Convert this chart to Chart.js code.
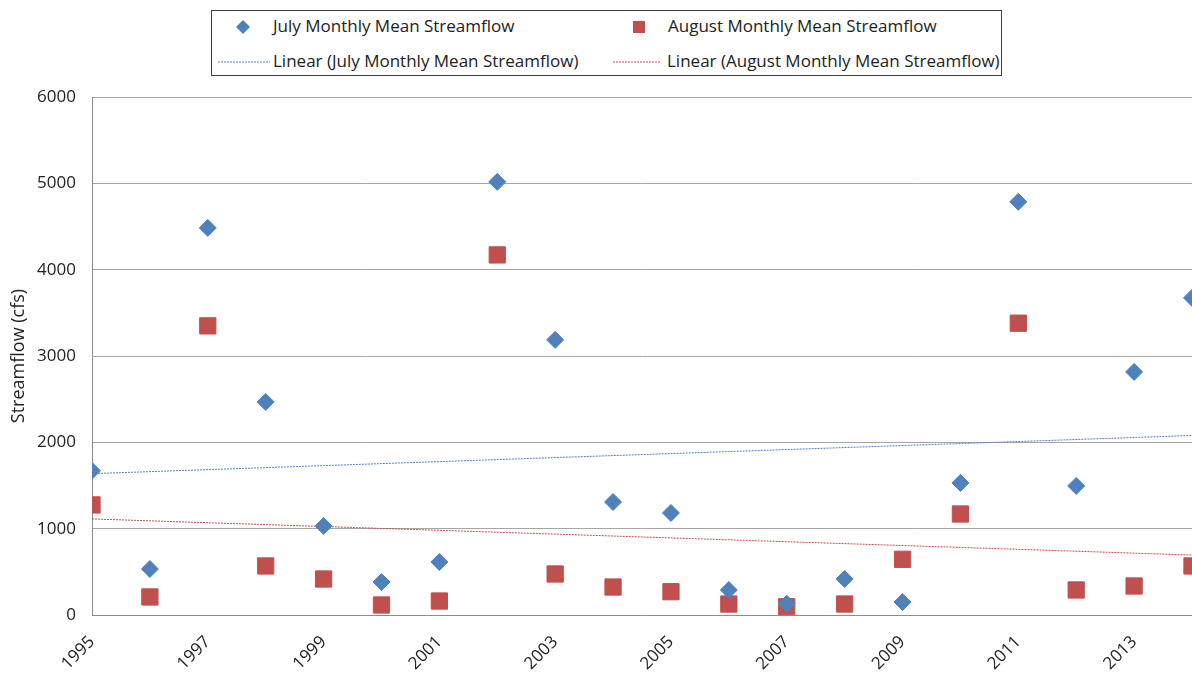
<!DOCTYPE html>
<html>
<head>
<meta charset="utf-8">
<script src="https://cdn.jsdelivr.net/npm/chart.js@4.4.1/dist/chart.umd.min.js"></script>
<style>
  html, body { margin: 0; padding: 0; background: #fff; overflow: hidden; }
  #wrap { position: relative; width: 1192px; height: 673px; }
  #flow-chart { position: absolute; left: 0; top: 0; }
  .legend {
    position: absolute; left: 211px; top: 10px; width: 791px; height: 66px;
    box-sizing: border-box; border: 1px solid #404040; background: #fff;
    font-family: "Open Sans", sans-serif; font-size: 17px; color: #222;
  }
  .legend .item { position: absolute; white-space: nowrap; line-height: 20px; }
  .legend svg { position: absolute; }
</style>
</head>
<body>
<div id="wrap">
  <canvas id="flow-chart" width="1192" height="673"></canvas>
  <div class="legend">
    <svg style="left:23px;top:8px" width="16" height="16"><polygon points="8,1 15,8 8,15 1,8" fill="#4f81bd"/></svg>
    <div class="item" style="left:61px;top:5px">July Monthly Mean Streamflow</div>
    <svg style="left:419px;top:8px" width="16" height="16"><rect x="2" y="2" width="12" height="12" fill="#c0504d"/></svg>
    <div class="item" style="left:456px;top:5px">August Monthly Mean Streamflow</div>
    <svg style="left:6px;top:49px" width="52" height="4"><line x1="0" y1="2" x2="52" y2="2" stroke="#4f81bd" stroke-width="1" stroke-dasharray="2,1"/></svg>
    <div class="item" style="left:61px;top:40px">Linear (July Monthly Mean Streamflow)</div>
    <svg style="left:401px;top:49px" width="48" height="4"><line x1="0" y1="2" x2="48" y2="2" stroke="#c0504d" stroke-width="1" stroke-dasharray="2,1"/></svg>
    <div class="item" style="left:455px;top:40px">Linear (August Monthly Mean Streamflow)</div>
  </div>
</div>
<script>
const years = [1995, 1996, 1997, 1998, 1999, 2000, 2001, 2002, 2003, 2004,
  2005, 2006, 2007, 2008, 2009, 2010, 2011, 2012, 2013, 2014];
const julyFlow = [1670, 533, 4484, 2468, 1031, 382, 614, 5017, 3187, 1309,
  1182, 290, 130, 417, 150, 1530, 4786, 1495, 2816, 3673];
const augustFlow = [1275, 209, 3349, 568, 417, 116, 162, 4171, 475, 324,
  270, 127, 96, 127, 645, 1170, 3380, 290, 336, 568];
const yearTicks = [1995, 1997, 1999, 2001, 2003, 2005, 2007, 2009, 2011, 2013];
const flowTicks = [0, 1000, 2000, 3000, 4000, 5000, 6000];

const BLUE = "#4f81bd";
const RED = "#c0504d";
const FONT = "'Open Sans', sans-serif";

// least squares line over the whole year range, like an Excel trendline
function linearFit(xs, ys) {
  const n = xs.length;
  const mx = xs.reduce((a, b) => a + b, 0) / n;
  const my = ys.reduce((a, b) => a + b, 0) / n;
  let num = 0;
  let den = 0;
  for (let i = 0; i < n; i++) {
    num += (xs[i] - mx) * (ys[i] - my);
    den += (xs[i] - mx) ** 2;
  }
  const slope = num / den;
  const first = xs[0];
  const last = xs[n - 1];
  return [
    { x: first, y: my + slope * (first - mx) },
    { x: last, y: my + slope * (last - mx) },
  ];
}

function toPoints(values) {
  return years.map((y, i) => ({ x: y, y: values[i] }));
}

const data = {
  datasets: [
    {
      label: "Linear (July Monthly Mean Streamflow)",
      type: "line",
      data: linearFit(years, julyFlow),
      borderColor: BLUE,
      borderWidth: 1,
      borderDash: [2, 1],
      pointRadius: 0,
      order: 3,
    },
    {
      label: "Linear (August Monthly Mean Streamflow)",
      type: "line",
      data: linearFit(years, augustFlow),
      borderColor: RED,
      borderWidth: 1,
      borderDash: [2, 1],
      pointRadius: 0,
      order: 3,
    },
    {
      label: "August Monthly Mean Streamflow",
      data: toPoints(augustFlow),
      pointStyle: "rect",
      pointRadius: 11.5,
      backgroundColor: RED,
      borderColor: RED,
      borderWidth: 1,
      order: 2,
    },
    {
      label: "July Monthly Mean Streamflow",
      data: toPoints(julyFlow),
      pointStyle: "rectRot",
      pointRadius: 8.5,
      backgroundColor: BLUE,
      borderColor: BLUE,
      borderWidth: 1,
      order: 1,
    },
  ],
};

new Chart(document.getElementById("flow-chart"), {
  type: "scatter",
  data,
  options: {
    responsive: false,
    animation: false,
    events: [],
    layout: { autoPadding: false, padding: { top: 97, right: 0, left: 0, bottom: 0 } },
    plugins: { legend: { display: false }, tooltip: { enabled: false } },
    scales: {
      x: {
        type: "linear",
        min: 1995,
        max: 2014,
        afterBuildTicks: (s) => { s.ticks = yearTicks.map((v) => ({ value: v })); },
        afterFit: (s) => {
          s.height = 58;
          s.paddingLeft = 0;
          s.paddingRight = 0;
        },
        grid: { display: false, drawTicks: false },
        border: { display: true, color: "#8c8c8c", width: 1 },
        ticks: {
          minRotation: 45,
          maxRotation: 45,
          autoSkip: false,
          padding: 17,
          color: "#222",
          font: { family: FONT, size: 17 },
          callback: (v) => String(v),
        },
      },
      y: {
        min: 0,
        max: 6000,
        afterBuildTicks: (s) => { s.ticks = flowTicks.map((v) => ({ value: v })); },
        afterFit: (s) => {
          s.width = 92;
          s.paddingTop = 0;
          s.paddingBottom = 0;
        },
        grid: { color: "#a6a6a6", drawTicks: false },
        border: { display: true, color: "#8c8c8c", width: 1 },
        ticks: {
          padding: 16,
          color: "#222",
          font: { family: FONT, size: 17 },
          callback: (v) => String(v),
        },
        title: {
          display: true,
          text: "Streamflow (cfs)",
          color: "#222",
          padding: { top: 8, bottom: 0 },
          font: { family: FONT, size: 18 },
        },
      },
    },
  },
});
</script>
</body>
</html>
